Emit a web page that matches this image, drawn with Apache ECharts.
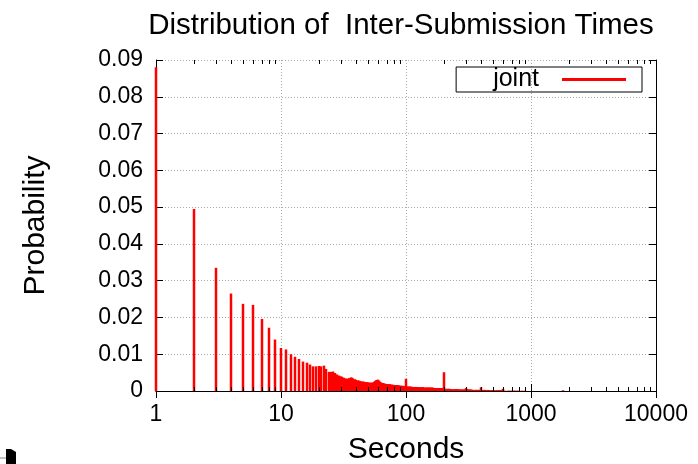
<!DOCTYPE html>
<html>
<head>
<meta charset="utf-8">
<script src="https://cdn.jsdelivr.net/npm/echarts@6/dist/echarts.min.js"></script>
<style>html,body{margin:0;padding:0;background:#fff}#c{width:698px;height:464px}</style>
</head>
<body>
<div id="c"></div>
<script>
const seconds = [
  1,2,3,4,5,6,7,8,9,10,
  11,12,13,14,15,16,17,18,19,20,
  21,22,23,24,25,26,27,28,29,30,
  31,32,33,34,35,36,37,38,39,40,
  41,42,43,44,45,46,47,48,49,50,
  51,52,53,54,55,56,57,58,59,60,
  61,62,63,64,65,66,67,68,69,70,
  71,72,73,74,75,76,77,78,79,80,
  81,82,83,84,85,86,87,88,89,90,
  91,92,93,94,95,96,97,98,99,100,
  102,104,106,108,110,112,114,116,118,120,
  122,124,126,128,130,132,134,136,138,140,
  142,144,146,148,150,152,154,156,158,160,
  162,164,166,168,170,172,174,176,178,180,
  182,184,186,188,190,192,194,196,198,200,
  205,210,215,220,225,230,235,240,245,250,
  255,260,265,270,275,280,285,290,295,300,
  305,310,315,320,325,330,335,340,345,350,
  355,360,365,370,375,380,385,390,395,400,
  410,420,430,440,450,460,470,480,490,500,
  510,520,530,540,550,560,570,580,590,600,
  625,650,675,700,725,750,775,800,850,900,
  1800
];
const probability = [
  0.0880,0.0495,0.0335,0.0265,0.0237,0.0234,0.0196,0.0172,0.0140,0.0117,
  0.0113,0.0100,0.0093,0.0087,0.0080,0.0077,0.0072,0.0067,0.0067,0.0068,
  0.0067,0.0069,0.0060,0.0052,0.0052,0.0053,0.0049,0.0045,0.0042,0.0040,
  0.0038,0.0036,0.0034,0.0033,0.0035,0.0037,0.0036,0.0034,0.0032,0.0030,
  0.0029,0.0028,0.0027,0.0026,0.0026,0.0025,0.0024,0.0024,0.0024,0.0023,
  0.0023,0.0023,0.0022,0.0023,0.0024,0.0025,0.0027,0.0029,0.0030,0.0031,
  0.0028,0.0025,0.0023,0.0022,0.0021,0.0021,0.0020,0.0020,0.0019,0.0019,
  0.0019,0.0018,0.0018,0.0018,0.0018,0.0017,0.0017,0.0017,0.0016,0.0016,
  0.0016,0.0016,0.0016,0.0015,0.0015,0.0015,0.0015,0.0015,0.0014,0.0014,
  0.0014,0.0014,0.0014,0.0014,0.0013,0.0013,0.0013,0.0013,0.0013,0.0033,
  0.0012,0.0012,0.0012,0.0012,0.0012,0.0011,0.0011,0.0011,0.0011,0.0011,
  0.0011,0.0010,0.0010,0.0010,0.0010,0.0010,0.0010,0.0010,0.0010,0.0009,
  0.0009,0.0009,0.0009,0.0009,0.0009,0.0009,0.0009,0.0009,0.0009,0.0009,
  0.0009,0.0009,0.0008,0.0008,0.0008,0.0008,0.0008,0.0008,0.0008,0.0008,
  0.0008,0.0008,0.0008,0.0008,0.0008,0.0008,0.0008,0.0008,0.0008,0.0051,
  0.0006,0.0006,0.0006,0.0006,0.0005,0.0005,0.0005,0.0005,0.0005,0.0005,
  0.0005,0.0005,0.0004,0.0004,0.0004,0.0004,0.0004,0.0004,0.0004,0.0008,
  0.0004,0.0004,0.0004,0.0004,0.0004,0.0004,0.0003,0.0003,0.0003,0.0003,
  0.0003,0.0003,0.0003,0.0003,0.0003,0.0003,0.0003,0.0003,0.0003,0.0010,
  0.0003,0.0003,0.0003,0.0003,0.0003,0.0002,0.0002,0.0002,0.0002,0.0002,
  0.0002,0.0002,0.0002,0.0002,0.0002,0.0002,0.0002,0.0002,0.0002,0.0006,
  0.0001,0.0001,0.0001,0.0001,0.0001,0.0001,0.0001,0.0001,0.0001,0.0001,
  0.0002
];
const yTicks = [0,0.01,0.02,0.03,0.04,0.05,0.06,0.07,0.08,0.09];
const xTickLabels = ['1','10','100','1000','10000'];
const minorTickValues = [];
[1,10,100,1000].forEach(d => { for (let k = 2; k <= 9; k++) minorTickValues.push(d * k); });

const FONT = 'Liberation Sans';
const RED = '#ff0000';
const chart = echarts.init(document.getElementById('c'), null, {renderer: 'canvas'});

const xCommon = {
  type: 'log', logBase: 10, min: 1, max: 10000,
  axisLine: {show: true, lineStyle: {color: '#000', width: 1}},
  axisTick: {show: true, inside: true, length: 7, lineStyle: {color: '#000'}},
  splitLine: {show: false}
};
const yCommon = {
  type: 'value', min: 0, max: 0.09, interval: 0.01,
  axisLine: {show: true, lineStyle: {color: '#000', width: 1}},
  axisTick: {show: true, inside: true, length: 7, lineStyle: {color: '#000'}},
  splitLine: {show: false}
};

chart.setOption({
  animation: false,
  backgroundColor: '#fff',
  title: {
    text: 'Distribution of  Inter-Submission Times',
    left: 396, top: 6, textAlign: 'center',
    textStyle: {fontFamily: FONT, fontSize: 29.5, fontWeight: 'normal', color: '#000'}
  },
  grid: {left: 156, right: 42, top: 60, bottom: 73, show: false, containLabel: false, outerBoundsMode: 'none'},
  legend: {
    data: [{name: 'joint', icon: 'rect'}],
    right: 56, top: 67, align: 'right', orient: 'horizontal',
    itemWidth: 64, itemHeight: 3,
    borderColor: '#000', borderWidth: 1, borderRadius: 0,
    padding: [0, 16, 0, 37],
    textStyle: {fontFamily: FONT, fontSize: 25, color: '#000', padding: [0, 18, 0, 0]}
  },
  xAxis: [
    Object.assign({}, xCommon, {
      position: 'bottom',
      name: 'Seconds', nameLocation: 'middle', nameGap: 44,
      nameTextStyle: {fontFamily: FONT, fontSize: 30, color: '#000'},
      axisLabel: {
        show: true, margin: 12, fontFamily: FONT, fontSize: 23, color: '#000',
        formatter: v => { const i = Math.round(Math.log10(v)); return xTickLabels[i] !== undefined ? xTickLabels[i] : ''; }
      },
      splitLine: {show: true, lineStyle: {color: '#a8a8a8', type: [1, 2], width: 1}}
    }),
    Object.assign({}, xCommon, {position: 'top', axisLabel: {show: false}})
  ],
  yAxis: [
    Object.assign({}, yCommon, {
      position: 'left',
      name: 'Probability', nameLocation: 'middle', nameGap: 105, nameRotate: 90,
      nameTextStyle: {fontFamily: FONT, fontSize: 30, color: '#000'},
      axisLabel: {
        show: true, margin: 13, fontFamily: FONT, fontSize: 23, color: '#000',
        formatter: v => { const t = yTicks.find(t => Math.abs(t - v) < 1e-9); return t === 0 ? '0' : t.toFixed(2); }
      },
      splitLine: {show: true, lineStyle: {color: '#a8a8a8', type: [1, 2], width: 1}}
    }),
    Object.assign({}, yCommon, {position: 'right', axisLabel: {show: false}})
  ],
  series: [
    {
      name: 'joint', type: 'custom', xAxisIndex: 0, yAxisIndex: 0, z: 1,
      itemStyle: {color: RED}, clip: false,
      data: seconds.map((s, i) => [s, probability[i]]),
      encode: {x: 0, y: 1},
      renderItem: (params, api) => {
        const p0 = api.coord([api.value(0), 0]);
        const p1 = api.coord([api.value(0), api.value(1)]);
        const x = Math.round(p0[0]);
        return {type: 'line', shape: {x1: x, y1: p0[1], x2: x, y2: p1[1]},
                style: {stroke: RED, lineWidth: 2.5}};
      }
    },
    {
      name: 'minorTicks', type: 'custom', xAxisIndex: 0, yAxisIndex: 0, silent: true, z: 3,
      data: minorTickValues.map(v => [v, 0]),
      encode: {x: 0, y: 1},
      renderItem: (params, api) => {
        const b = api.coord([api.value(0), 0]);
        const t = api.coord([api.value(0), 0.09]);
        const x = Math.round(b[0]) + 0.5;
        return {type: 'group', children: [
          {type: 'line', shape: {x1: x, y1: b[1], x2: x, y2: b[1] - 4}, style: {stroke: '#000', lineWidth: 1}},
          {type: 'line', shape: {x1: x, y1: t[1], x2: x, y2: t[1] + 4}, style: {stroke: '#000', lineWidth: 1}}
        ]};
      }
    }
  ],
  graphic: [
    {type: 'polygon', shape: {points: [[6,449],[11,449],[16,452],[16,464],[6,464]]}, style: {fill: '#000'}},
    {type: 'line', shape: {x1: 0, y1: 458, x2: 6, y2: 458}, style: {stroke: '#888', lineWidth: 1}}
  ]
});
</script>
</body>
</html>
